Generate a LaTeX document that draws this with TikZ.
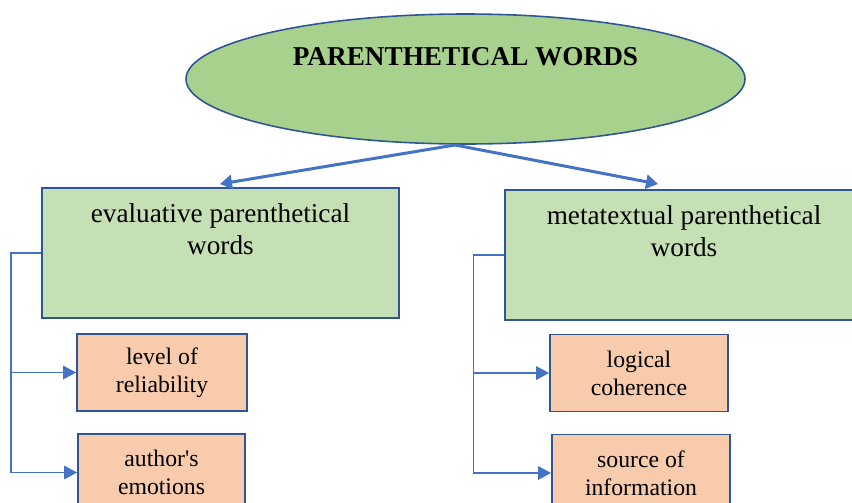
\documentclass[tikz,border=0pt]{standalone}
\usepackage{fontspec}
\setmainfont{Liberation Serif}
\usepackage{tikz}
\usetikzlibrary{arrows.meta,shapes.geometric,positioning}

\definecolor{ovalgreen}{HTML}{A9D18E}
\definecolor{boxgreen}{HTML}{C5E0B4}
\definecolor{boxorange}{HTML}{F8CBAD}
\definecolor{edgeblue}{HTML}{2F5597}
\definecolor{linkblue}{HTML}{4472C4}

\begin{document}
\begin{tikzpicture}[
  every node/.style={font=\fontsize{13.5}{16}\selectfont},
  oval/.style={ellipse, draw=edgeblue, line width=0.9pt, fill=ovalgreen, minimum width=11.18cm, minimum height=2.6cm, inner sep=0pt},
  group/.style={draw=edgeblue, line width=1pt, fill=boxgreen, minimum width=7.15cm, minimum height=2.6cm, inner sep=0pt},
  grouptxt/.style={font=\fontsize{15.5}{18}\selectfont, align=center, inner sep=0pt},
  leaf/.style={draw=edgeblue, line width=1pt, fill=boxorange, minimum height=1.54cm, align=center, inner sep=0pt},
  bigarrow/.style={draw=linkblue, line width=1.7pt, -{Triangle[length=2.4mm,width=2.8mm]}},
  link/.style={draw=linkblue, line width=0.85pt, -{Triangle[length=2.6mm,width=2.7mm]}},
]
\useasboundingbox (0,0) rectangle (17.04,-10.04);
% top oval
\node[oval] (title) at (9.31,-1.58) {};
\node[font=\fontsize{15.5}{18}\selectfont\bfseries] (titletxt) at (9.31,-1.14) {PARENTHETICAL WORDS};
\coordinate (fork) at (9.1,-2.9);
% the two groups
\node[group] (eval) at (4.41,-5.06) {};
\node[grouptxt, below=0.33cm of eval.north] (evaltxt) {evaluative parenthetical\\words};
\node[group] (meta) at (13.68,-5.10) {};
\node[grouptxt, below=0.33cm of meta.north] (metatxt) {metatextual parenthetical\\words};
\coordinate (evaltop) at (4.4,-3.68);
\coordinate (metatop) at (13.16,-3.68);
\draw[bigarrow] (fork) -- (evaltop);
\draw[bigarrow] (fork) -- (metatop);
% leaves
\node[leaf, minimum width=3.4cm] (lev) at (3.24,-7.45) {level of\\reliability};
\node[leaf, minimum width=3.34cm] (auth) at (3.23,-9.45) {author\textquotesingle s\\emotions};
\node[leaf, minimum width=3.56cm] (logic) at (12.78,-7.46) {logical\\coherence};
\node[leaf, minimum width=3.56cm] (src) at (12.82,-9.46) {source of\\information};
% side connectors
\draw[link] (eval.west) -- ++(-0.6,0) |- (lev.west);
\draw[link] (eval.west) -- ++(-0.6,0) |- (auth.west);
\draw[link] (meta.west) -- ++(-0.62,0) |- (logic.west);
\draw[link] (meta.west) -- ++(-0.62,0) |- (src.west);
\end{tikzpicture}
\end{document}
